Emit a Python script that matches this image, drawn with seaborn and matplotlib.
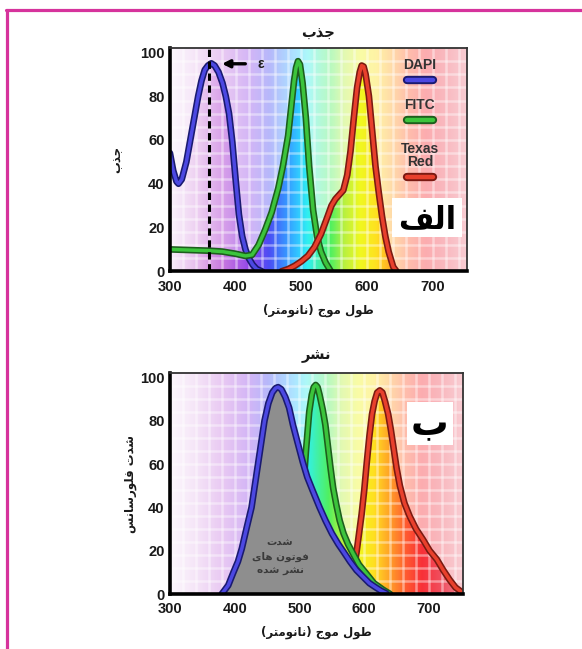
import numpy as np
import matplotlib.pyplot as plt
import seaborn as sns
from matplotlib.colors import LinearSegmentedColormap
from matplotlib.lines import Line2D
from matplotlib.patches import Rectangle

# Arabic/Persian strings are written in presentation forms, visual order
TITLE_ABS = '\uFE8F\uFEAC\uFE9F'            # جذب
TITLE_EM = '\uFEAE\uFEB8\uFEE7'             # نشر
XLABEL = '(\uFEAE\uFE98\uFEE3\uFEEE\uFEE7\uFE8E\uFEE7) \uFE9D\uFEEE\uFEE3 \uFEDD\uFEEE\uFEC3'  # طول موج (نانومتر)
YLABEL_ABS = '\uFE8F\uFEAC\uFE9F'           # جذب
YLABEL_EM = '\uFEB2\uFEE7\uFE8E\uFEB3\uFEAD\uFEEE\uFEE0\uFED3 \uFE95\uFEAA\uFEB7'  # شدت فلورسانس
PANEL_A = '\uFED2\uFEDF\uFE8D'              # الف
PANEL_B = '\uFE8F'                          # ب
GRAY_NOTE = ('\uFE95\uFEAA\uFEB7\n'
             '\uFBFC\uFE8E\uFEEB \uFEE5\uFEEE\uFE97\uFEEE\uFED3\n'
             '\uFEE9\uFEAA\uFEB7 \uFEAE\uFEB8\uFEE7')  # شدت / فوتون های / نشر شده

# --- absorption (top) ---
dapi_abs_x = [300, 305, 310, 313, 318, 325, 331, 337, 343, 348, 353, 358, 363, 368, 374,
              380, 385, 390, 395, 400, 405, 410, 415, 420, 426, 432, 440]
dapi_abs_y = [54, 46, 41, 40, 42, 50, 60, 70, 80, 87, 92, 94, 95, 94, 91,
              86, 80, 72, 59, 42, 26, 16, 10, 6, 3, 1, 0]
fitc_abs_x = [300, 320, 340, 360, 380, 400, 415, 425, 435, 445, 455, 465, 472, 480, 485,
              489, 492, 495, 498, 502, 507, 512, 518, 524, 530, 537, 545]
fitc_abs_y = [10, 9.8, 9.6, 9.4, 9, 8, 7, 7.5, 12, 19, 27, 38, 48, 62, 76,
              87, 93, 96, 94.5, 86, 70, 48, 28, 16, 9, 4, 0]
tr_abs_x = [470, 480, 490, 500, 510, 520, 530, 540, 546, 552, 558, 564, 570, 575, 580,
            585, 589, 592, 595, 598, 603, 608, 613, 618, 623, 628, 633, 640, 645]
tr_abs_y = [0, 1, 2.5, 4.5, 7, 11, 17, 25, 30, 33, 35, 37, 44, 55, 70,
            84, 91, 94, 93.5, 90, 80, 64, 48, 36, 25, 16, 9, 2, 0]

# --- emission (bottom) ---
dapi_em_x = [380, 390, 398, 405, 411, 418, 426, 431, 436, 441, 446, 452, 458, 463, 467,
             472, 478, 484, 490, 497, 505, 512, 520, 531, 540, 550, 560, 568, 578, 588,
             598, 608, 618, 626, 634]
dapi_em_y = [0, 4, 10, 15, 21, 30, 40, 50, 60, 70, 80, 88, 93, 95, 95.5,
             94.5, 91, 86, 78, 70, 61, 54, 48, 40, 34, 28, 23, 19.5, 15, 11,
             8, 5, 3, 1.5, 0.3]
fitc_em_x = [470, 480, 490, 500, 505, 510, 515, 519, 522, 525, 528, 531, 536, 540, 544,
             548, 552, 557, 562, 568, 575, 583, 592, 603, 615, 629, 640]
fitc_em_y = [0, 4, 12, 30, 45, 66, 84, 92, 95.5, 96.5, 95.5, 92, 85, 78, 68,
             58, 49, 41, 34, 28, 23, 18.5, 13.5, 9.5, 5, 2, 0]
tr_em_x = [576, 582, 588, 592, 596, 600, 604, 608, 612, 616, 620, 624, 628, 632, 637, 641,
           645, 650, 655, 662, 670, 680, 691, 701, 712, 722, 732, 741, 750]
tr_em_y = [0, 8, 19, 28, 37, 48, 61, 73, 83, 89, 93, 94, 93, 89, 83, 76,
           68, 58, 50, 42, 36, 30, 25, 20, 16, 11, 6.5, 3, 1]

x_ticks = [300, 350, 400, 450, 500, 550, 600, 650, 700, 750]
x_ticklabels = ['300', '', '400', '', '500', '', '600', '', '700', '']
y_ticks = [0, 20, 40, 60, 80, 100]
dye_names = ['DAPI', 'FITC', 'Texas\nRed']

# spectrum colours along the wavelength axis
spec_wl = [300, 340, 380, 420, 450, 475, 495, 510, 525, 545, 565, 590, 615, 640, 665, 690,
           720, 752]
spec_col = ['#f8eefa', '#e6bcec', '#c878e0', '#9448e8', '#4c4cf4', '#3890ff', '#30c8ff',
            '#30f0f0', '#40f0b0', '#50f060', '#b8f040', '#f0f820', '#ffe020', '#ffa028',
            '#ff5a30', '#f83038', '#f05060', '#f08090']
X0, X1 = 300, 752
spec = LinearSegmentedColormap.from_list(
    'spec', [((w - X0) / (X1 - X0), c) for w, c in zip(spec_wl, spec_col)])

dye_outer = ['#1a1a70', '#1d5e1d', '#7a1a12']
dye_inner = ['#4c48e2', '#3cc43c', '#e8402c']

sns.set_style('white')
plt.rcParams['font.family'] = ['Liberation Sans', 'DejaVu Sans']
plt.rcParams['font.weight'] = 'bold'
ARAB = ['DejaVu Sans']

fig = plt.figure(figsize=(5.82, 6.49), dpi=100)
ax1 = fig.add_axes([0.292, 0.582, 0.510, 0.344])
ax2 = fig.add_axes([0.292, 0.0847, 0.503, 0.3405])

grad = np.linspace(X0, X1, 800).reshape(1, -1)


def background(ax):
    ax.imshow(grad, extent=[X0, X1, 0, 102], origin='lower', aspect='auto', cmap=spec,
              vmin=X0, vmax=X1, alpha=0.4, zorder=0, interpolation='bilinear')
    # light square grid of the backdrop
    ax.vlines(np.arange(X0 + 20, X1, 20), 0, 102, color='white', alpha=0.42, lw=1.8, zorder=1.5)
    ax.hlines(np.arange(6, 102, 6), X0, X1, color='white', alpha=0.42, lw=1.8, zorder=1.5)


def spectrum_fill(ax, x, y, alpha=1.0, color=None, z=1):
    poly = ax.fill_between(x, y, 0, facecolor='none', edgecolor='none')
    if color is not None:
        poly.set_facecolor(color)
        poly.set_zorder(z)
        return
    im = ax.imshow(grad, extent=[X0, X1, 0, 102], origin='lower', aspect='auto', cmap=spec,
                   vmin=X0, vmax=X1, alpha=alpha, zorder=z, interpolation='bilinear')
    im.set_clip_path(poly.get_paths()[0], transform=ax.transData)


def curve(ax, x, y, i, z):
    sns.lineplot(x=x, y=y, ax=ax, color=dye_outer[i], lw=4.8, zorder=z,
                 sort=False, estimator=None)
    sns.lineplot(x=x, y=y, ax=ax, color=dye_inner[i], lw=2.5, zorder=z + 0.05,
                 sort=False, estimator=None)


def style(ax, title, ylabel, ylabelpad, titlepad, xlabelpad):
    ax.set_xlim(X0, X1)
    ax.set_ylim(0, 102)
    ax.set_xticks(x_ticks)
    ax.set_xticklabels(x_ticklabels)
    ax.set_yticks(y_ticks)
    ax.set_yticklabels([str(v) for v in y_ticks])
    ax.grid(False)
    ax.tick_params(direction='in', length=5, width=2.4, labelsize=10.5,
                   labelcolor='#1a1a1a', color='black')
    ax.tick_params(axis='x', pad=6)
    ax.tick_params(axis='y', pad=4)
    ax.xaxis.set_zorder(9)
    ax.yaxis.set_zorder(9)
    for s in ['left', 'bottom']:
        ax.spines[s].set_linewidth(2.6)
        ax.spines[s].set_color('black')
    for s in ['top', 'right']:
        ax.spines[s].set_linewidth(1.3)
        ax.spines[s].set_color('#333333')
    for s in ax.spines.values():
        s.set_zorder(10)
    ax.set_title(title, fontsize=10.5, fontweight='bold', pad=titlepad, family=ARAB, color='#1a1a1a')
    ax.set_xlabel(XLABEL, fontsize=8.5, fontweight='bold', labelpad=xlabelpad, family=ARAB, color='#1a1a1a')
    ax.set_ylabel(ylabel, fontsize=8.5, fontweight='bold', labelpad=ylabelpad, family=ARAB, color='#1a1a1a')


# top panel: absorption
background(ax1)
spectrum_fill(ax1, dapi_abs_x, dapi_abs_y, alpha=0.5)
spectrum_fill(ax1, fitc_abs_x, fitc_abs_y)
spectrum_fill(ax1, tr_abs_x, tr_abs_y)
curve(ax1, dapi_abs_x, dapi_abs_y, 0, 3)
curve(ax1, fitc_abs_x, fitc_abs_y, 1, 3.2)
curve(ax1, tr_abs_x, tr_abs_y, 2, 3.4)
ax1.axvline(360, color='black', lw=2.2, ls=(0, (2.4, 1.5)), zorder=5)
ax1.annotate('', xy=(375, 94.8), xytext=(419, 94.8),
             arrowprops=dict(arrowstyle='-|>', color='black', lw=2.4, mutation_scale=11),
             zorder=6)
ax1.text(433, 94.8, '\u03b5', fontsize=10, ha='left', va='center', color='#1a1a1a', zorder=6)

leg_text_y = [0.924, 0.744, 0.52]
leg_key_y = [0.857, 0.677, 0.422]
for i, name in enumerate(dye_names):
    ax1.text(0.842, leg_text_y[i], name, transform=ax1.transAxes, ha='center', va='center',
             fontsize=10, color='#333333', linespacing=0.9, zorder=6)
    for c, w in [(dye_outer[i], 6.0), (dye_inner[i], 3.2)]:
        ax1.add_line(Line2D([0.80, 0.885], [leg_key_y[i]] * 2, transform=ax1.transAxes,
                            color=c, lw=w, solid_capstyle='round', zorder=6))

ax1.add_patch(Rectangle((0.747, 0.152), 0.236, 0.175, transform=ax1.transAxes,
                        facecolor='white', edgecolor='none', zorder=6))
ax1.text(0.865, 0.232, PANEL_A, transform=ax1.transAxes, ha='center', va='center',
         fontsize=22, color='black', family=ARAB, zorder=7)
style(ax1, TITLE_ABS, YLABEL_ABS, 12, 7, 7.5)

# bottom panel: emission
background(ax2)
spectrum_fill(ax2, tr_em_x, tr_em_y, z=1)
curve(ax2, tr_em_x, tr_em_y, 2, 2.4)
spectrum_fill(ax2, fitc_em_x, fitc_em_y, z=2.7)
curve(ax2, fitc_em_x, fitc_em_y, 1, 3)
spectrum_fill(ax2, dapi_em_x, dapi_em_y, color='#8e8e8e', z=3.5)
curve(ax2, dapi_em_x, dapi_em_y, 0, 4)
ax2.text(470, 17, GRAY_NOTE, ha='center', va='center', fontsize=7.5, color='#3a3a3a',
         linespacing=1.5, family=ARAB, zorder=5)

ax2.add_patch(Rectangle((0.809, 0.674), 0.157, 0.195, transform=ax2.transAxes,
                        facecolor='white', edgecolor='none', zorder=6))
ax2.text(0.887, 0.765, PANEL_B, transform=ax2.transAxes, ha='center', va='center',
         fontsize=27, color='black', family=ARAB, zorder=7)
style(ax2, TITLE_EM, YLABEL_EM, 2, 10, 6.5)

# magenta page frame
fig.add_artist(Line2D([6 / 582, 1], [1 - 10 / 649] * 2, transform=fig.transFigure,
                      color='#d6339c', lw=2.3))
fig.add_artist(Line2D([7 / 582] * 2, [0, 1 - 10 / 649], transform=fig.transFigure,
                      color='#d6339c', lw=2.3))

fig.savefig('out.png', dpi=100)
